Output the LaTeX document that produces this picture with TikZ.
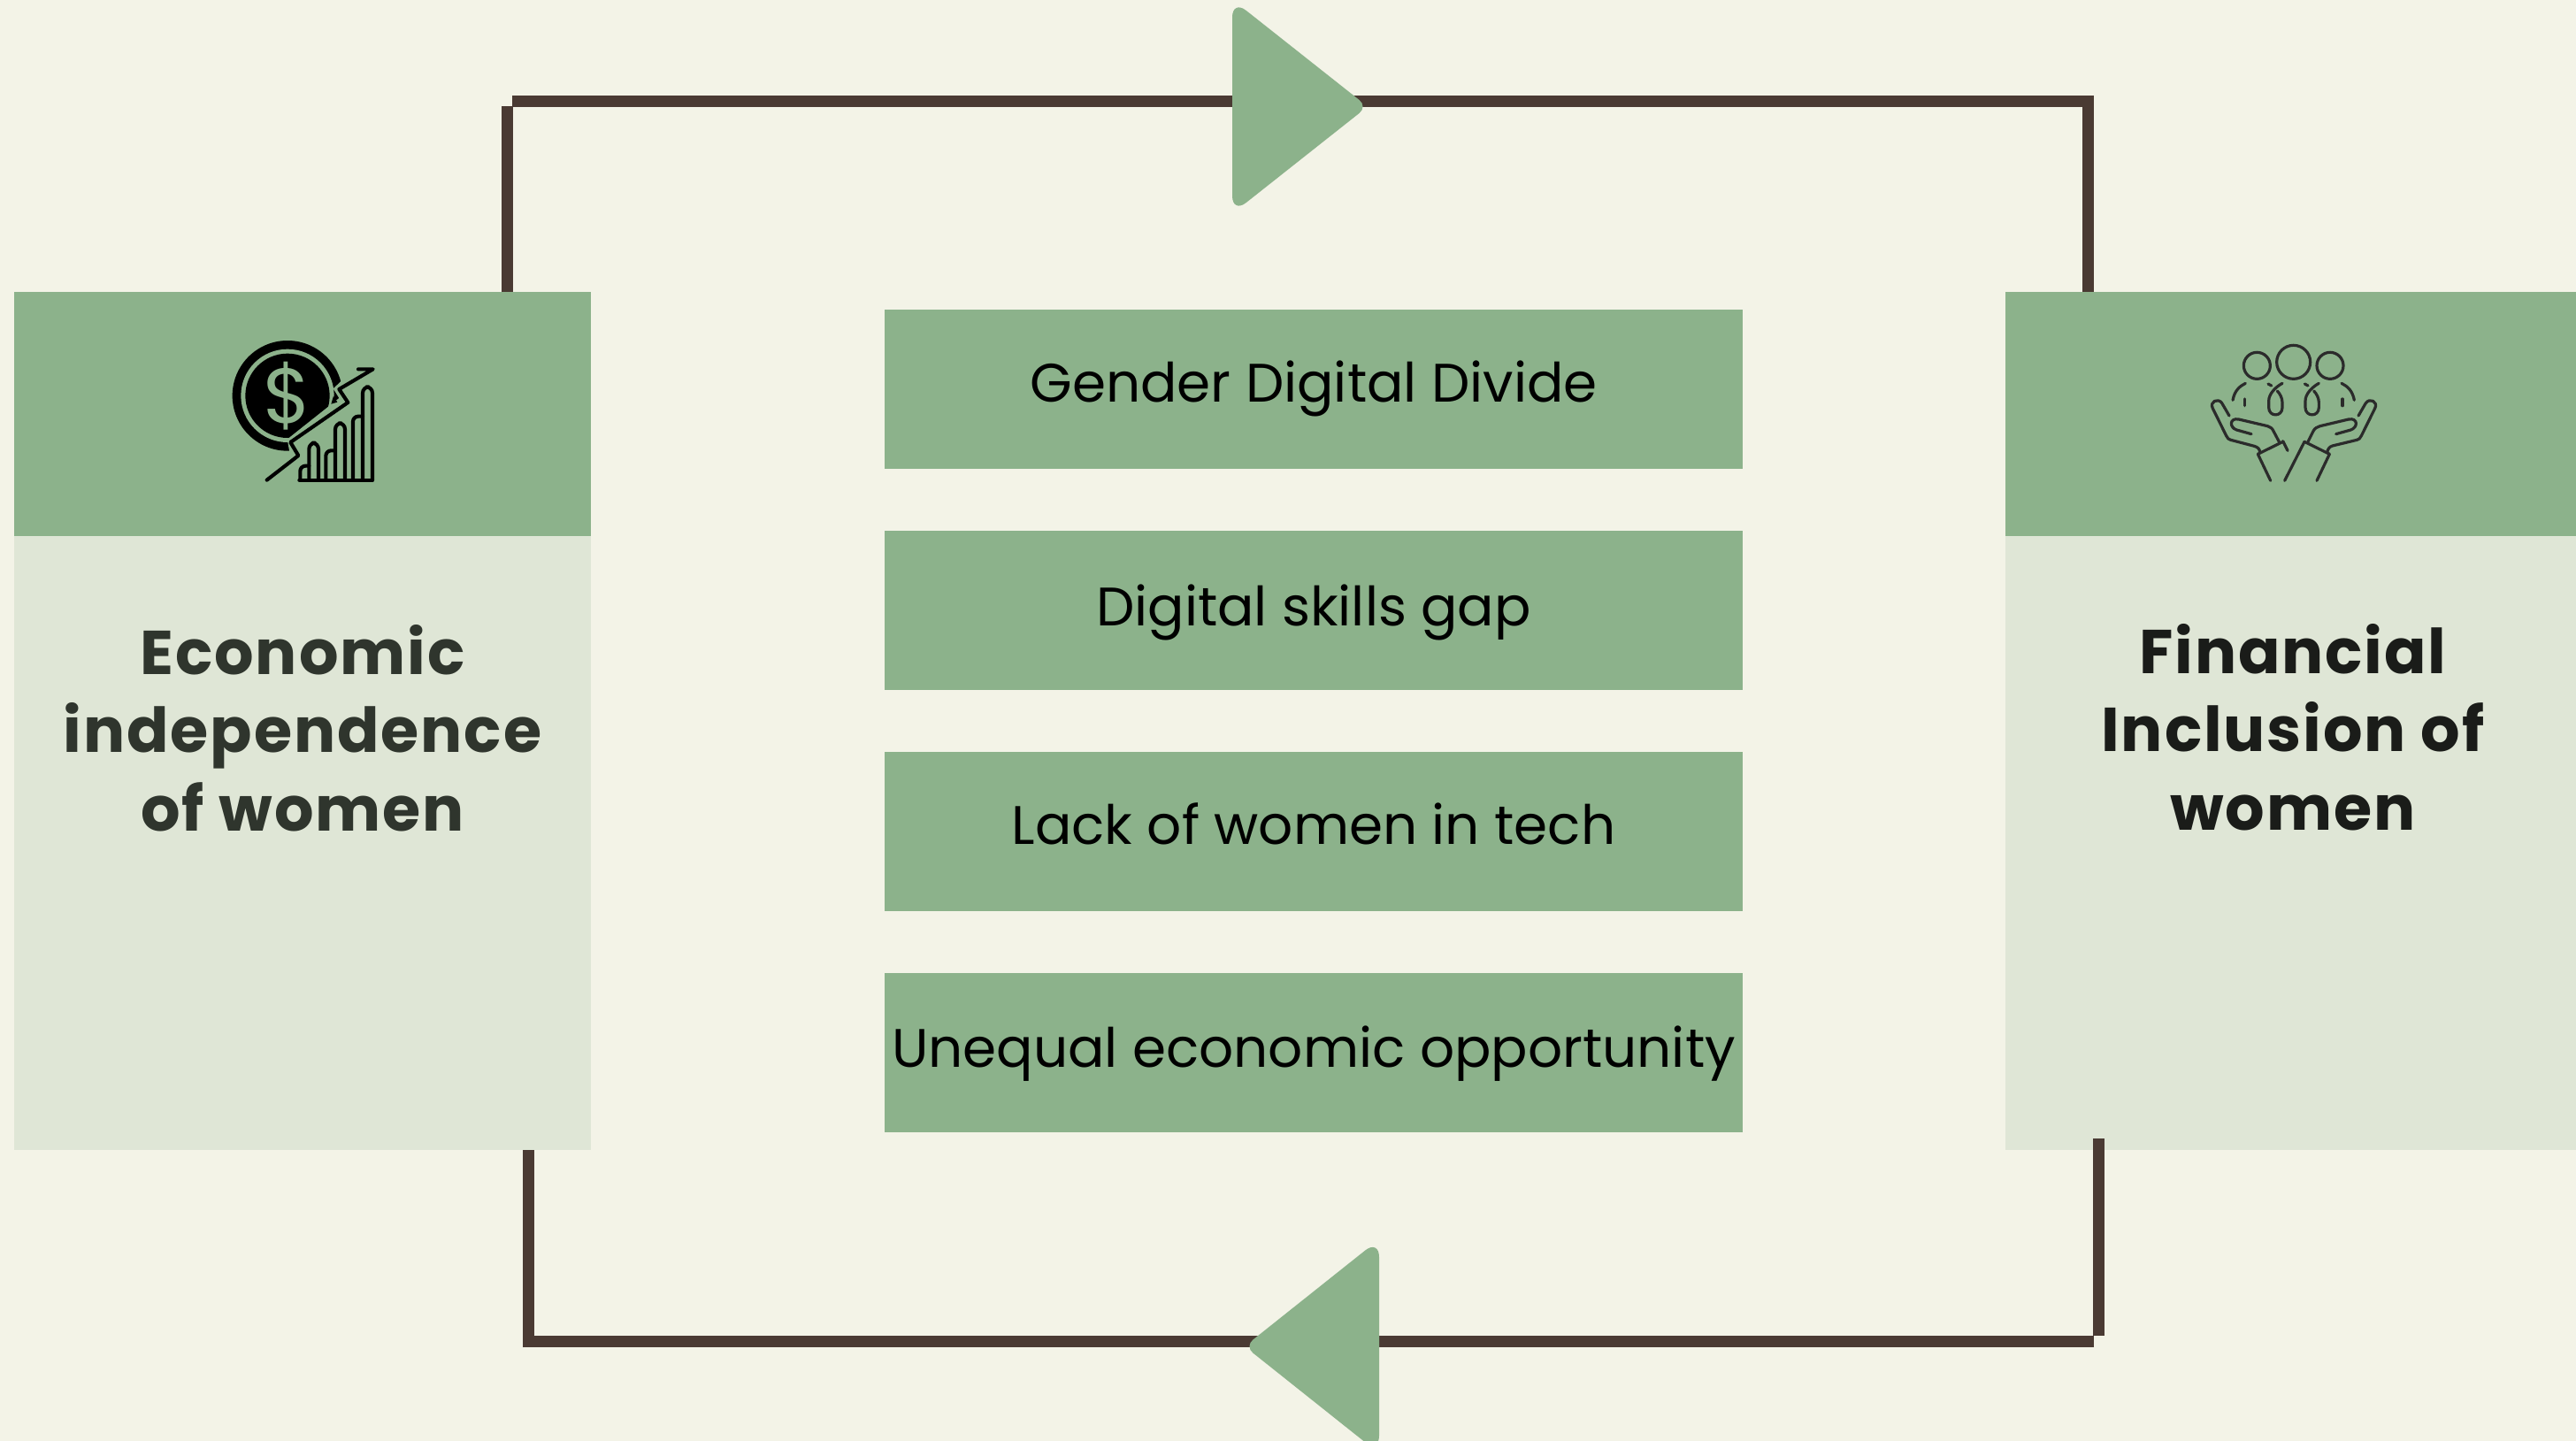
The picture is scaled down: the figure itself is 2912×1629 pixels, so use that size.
\documentclass[tikz,border=0pt]{standalone}
\usepackage{fontspec}
\setmainfont{Poppins}
\definecolor{bgc}{HTML}{F3F3E7}
\definecolor{sage}{HTML}{8CB28B}
\definecolor{pale}{HTML}{DFE6D6}
\definecolor{linec}{HTML}{4A3A33}
\definecolor{inkl}{HTML}{2F352D}
\definecolor{inkr}{HTML}{1A1C19}
\definecolor{iconr}{HTML}{2B2B2B}
\tikzset{
  barbox/.style={fill=sage,draw=none,minimum width=970pt,inner sep=0pt,outer sep=0pt,font=\fontsize{61.3pt}{72pt}\selectfont,text=black},
  head/.style={fill=sage,draw=none,inner sep=0pt,outer sep=0pt},
  body/.style={fill=pale,draw=none,inner sep=0pt,outer sep=0pt},
  titletext/.style={align=center,inner sep=0pt,font=\fontsize{70pt}{88.5pt}\selectfont\bfseries\addfontfeatures{LetterSpace=2.7}},
  link/.style={draw=linec,line width=13pt,line cap=butt},
  tri/.style={fill=sage,draw=none},
  iconline/.style={draw=iconr,line width=3.2pt,line cap=round,line join=round},
  coinline/.style={draw=black,line width=4.1pt,line cap=round,line join=round},
  iconfine/.style={x=0.33333pt,y=-0.33333pt}
}
\begin{document}
\begin{tikzpicture}[x=1pt,y=-1pt]
\useasboundingbox (0,0) rectangle (2912,1629);
\fill[bgc] (0,0) rectangle (2912,1629);
% panels
\node[head,minimum width=652pt,minimum height=276pt] (lhead) at (342,468) {};
\node[body,minimum width=652pt,minimum height=694pt] (lbody) at (342,953) {};
\node[head,minimum width=645pt,minimum height=276pt] (rhead) at (2589.5,468) {};
\node[body,minimum width=645pt,minimum height=694pt] (rbody) at (2589.5,953) {};
% connectors
\coordinate (a1) at (573.5,330);
\coordinate (a2) at (573.5,120);
\coordinate (a3) at (579,114.5);
\coordinate (a4) at (2367,114.5);
\coordinate (a6) at (2360.5,108);
\coordinate (a5) at (2360.5,330);
\coordinate (t0) at (1393,120.5);
\coordinate (t1) at (1393,-0.5);
\coordinate (t2) at (1546,120.5);
\coordinate (t3) at (1393,241.5);
\coordinate (b1) at (2372.5,1287);
\coordinate (b2) at (2372.5,1510);
\coordinate (b3) at (2367,1516.5);
\coordinate (b4) at (591,1516.5);
\coordinate (b6) at (597.5,1523);
\coordinate (b5) at (597.5,1300);
\coordinate (u0) at (1559,1522);
\coordinate (u1) at (1559,1401);
\coordinate (u2) at (1407,1522);
\coordinate (u3) at (1559,1643);
\draw[link] (a1) -- (a2);
\draw[link] (a3) -- (a4);
\draw[link] (a6) -- (a5);
\draw[link] (b1) -- (b2);
\draw[link] (b3) -- (b4);
\draw[link] (b6) -- (b5);
\path[tri] (t0) [rounded corners=20pt] -- (t1) [rounded corners=12pt] -- (t2) [rounded corners=20pt] -- (t3) [sharp corners] -- cycle;
\path[tri] (u0) [rounded corners=20pt] -- (u1) [rounded corners=12pt] -- (u2) [rounded corners=20pt] -- (u3) [sharp corners] -- cycle;
% centre boxes
\node[barbox,text height=104pt,text depth=76pt] (g1) at (1485,440) {Gender Digital Divide};
\node[barbox,text height=107pt,text depth=73pt] (g2) at (1485,690) {Digital skills gap};
\node[barbox,text height=104pt,text depth=76pt] (g3) at (1485,940) {Lack of women in tech};
\node[barbox,text height=106pt,text depth=74pt] (g4) at (1485,1190) {Unequal economic opportunity};
% titles
\node[titletext,text=inkl] (ltitle) at (342,823) {Economic\\independence\\of women};
\node[titletext,text=inkr] (rtitle) at (2592,822) {Financial\\Inclusion of\\women};
% coin icon
\begin{scope}[shift={(220,360)},iconfine]
  \fill[black] (315,262) circle[radius=187];
  \fill[sage] (315,262) circle[radius=158];
  \fill[black] (315,262) circle[radius=143];
  \node[text=sage,inner sep=0pt,font=\fontsize{88pt}{88pt}\selectfont] (dollar) at (316,262) {\$};
  \fill[sage] (325,470) -- (316,420) -- (320,405) -- (490,270) -- (470,238) -- (505,205) -- (560,250) -- (560,520) -- (325,520) -- cycle;
  \fill[black] (463,290) -- (471,263) -- (484,284) -- cycle;
  \draw[coinline] (245,548) -- (352,465) -- (325,420) -- (520,285) -- (490,240) -- (605,172) -- (555,172);
  \draw[coinline,rounded corners=6pt] (358,545) -- (358,500) -- (388,500);
  \draw[coinline,rounded corners=7pt] (388,548) -- (388,422) -- (420,422) -- (420,548);
  \draw[coinline,rounded corners=6pt] (445,548) -- (445,448) -- (475,448);
  \draw[coinline,rounded corners=7pt] (477,548) -- (477,355) -- (510,355) -- (510,548);
  \draw[coinline,rounded corners=6pt] (537,548) -- (537,332) -- (570,332);
  \draw[coinline,rounded corners=7pt] (570,548) -- (570,232) -- (603,232) -- (603,548);
  \draw[coinline] (355,548) -- (603,548);
\end{scope}
% people icon
\begin{scope}[shift={(2420,340)},iconfine]
  \draw[iconline] (394,220) circle[radius=45];
  \draw[iconline] (518,208) circle[radius=57];
  \draw[iconline] (642,220) circle[radius=45];
  \draw[iconline] (312,337) .. controls (318,305) and (335,290) .. (355,280);
  \draw[iconline] (352,333) -- (352,356);
  \draw[iconline] (724,337) .. controls (718,305) and (701,290) .. (681,280);
  \draw[iconline] (684,333) -- (684,356);
  \foreach \dx in {0,124} {
    \draw[iconline] (432+\dx,282) -- (443+\dx,288);
    \draw[iconline] (480+\dx,280) .. controls (458+\dx,292) and (434+\dx,315) .. (434+\dx,340) -- (434+\dx,362)
       .. controls (434+\dx,395) and (480+\dx,395) .. (480+\dx,362) -- (480+\dx,345)
       .. controls (480+\dx,330) and (472+\dx,315) .. (463+\dx,306);
  }
  % left hand
  \draw[iconline] (300,390) -- (275,347) .. controls (262,328) and (232,342) .. (244,365) -- (290,458)
     .. controls (294,467) and (298,470) .. (305,472) -- (385,493) .. controls (398,497) and (403,503) .. (404,514);
  \draw[iconline] (375,452) -- (325,438) .. controls (300,430) and (300,396) .. (332,402) -- (430,425)
     .. controls (440,428) and (445,432) .. (450,442) -- (470,480);
  \draw[iconline] (482,476) -- (498,508);
  \draw[iconline] (397,520) -- (482,478);
  \draw[iconline] (397,520) -- (440,610);
  % right hand
  \draw[iconline] (738,390) -- (763,347) .. controls (776,328) and (806,342) .. (794,365) -- (748,458)
     .. controls (744,467) and (740,470) .. (733,472) -- (650,492) .. controls (640,495) and (634,503) .. (632,514);
  \draw[iconline] (662,452) -- (712,438) .. controls (737,430) and (737,396) .. (705,402) -- (608,425)
     .. controls (598,428) and (590,432) .. (585,442) -- (567,478);
  \draw[iconline] (640,520) -- (555,478);
  \draw[iconline] (555,478) -- (488,610);
  \draw[iconline] (640,520) -- (597,610);
\end{scope}
\end{tikzpicture}
\end{document}
